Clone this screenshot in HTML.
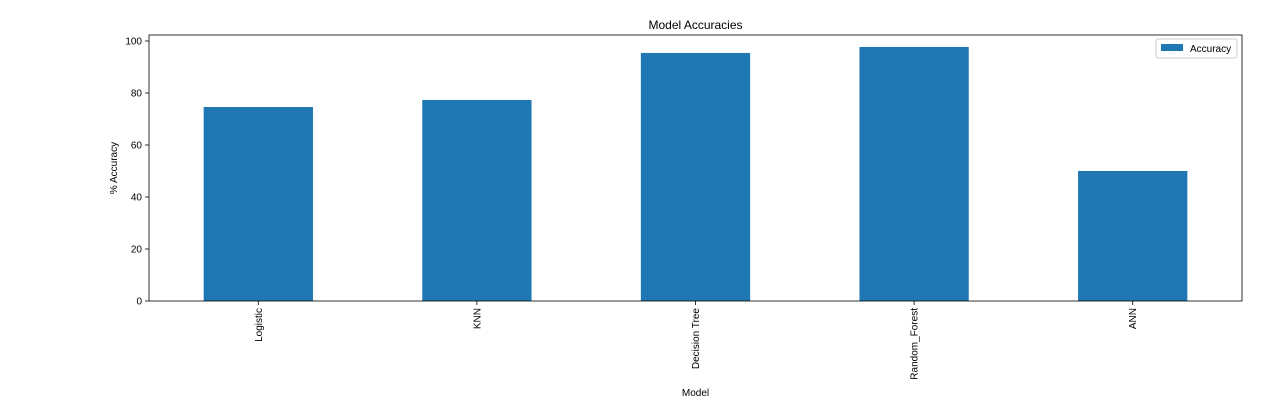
<!DOCTYPE html>
<html><head><meta charset="utf-8"><style>
body{margin:0;background:#fff;}
svg{display:block;font-family:"Liberation Sans","DejaVu Sans",sans-serif;}
</style></head><body>
<svg id="chart" width="1270" height="406">
<text x="695.5" y="29" font-size="12" text-anchor="middle">Model Accuracies</text>
<g id="bars"></g><g id="yticks"></g><g id="xticks"></g>
<rect x="149" y="35" width="1093" height="266" fill="none" stroke="#000" stroke-width="0.8"/>
<text x="695.5" y="396" font-size="10" text-anchor="middle">Model</text>
<text transform="translate(117,168) rotate(-90)" font-size="10" text-anchor="middle">% Accuracy</text>
<g>
<rect x="1156" y="39" width="81" height="19" rx="2" fill="#fff" stroke="#ccc"/>
<rect x="1161" y="44" width="22" height="7" fill="#1f77b4"/>
<text x="1190" y="52" font-size="10">Accuracy</text>
</g>
</svg>
<script>
const categories=["Logistic","KNN","Decision Tree","Random_Forest","ANN"];
const accuracy=[74.6,77.3,95.4,97.7,50.0];
const yTicks=[0,20,40,60,80,100];
const L=149,R=1242,T=35,B=301,YMAX=102.3;
const ns="http://www.w3.org/2000/svg";
const y=v=>B-(v/YMAX)*(B-T);
const step=(R-L)/categories.length;
const xc=i=>L+step*(i+0.5);
function mk(t,a,p){const e=document.createElementNS(ns,t);for(const k in a)e.setAttribute(k,a[k]);document.getElementById(p).appendChild(e);return e;}
accuracy.forEach((v,i)=>{
 const r=mk('rect',{x:xc(i)-step*0.25,y:y(v),width:step*0.5,height:B-y(v),fill:'#1f77b4'},'bars');
 
 
 mk('line',{x1:xc(i),x2:xc(i),y1:B,y2:B+4,stroke:'#000','stroke-width':0.8},'xticks');
 const t=mk('text',{transform:`translate(${xc(i)+3.5},${B+7}) rotate(-90)`,'font-size':10,'text-anchor':'end'},'xticks');
 t.textContent=categories[i];
 
 
});
yTicks.forEach(v=>{
 mk('line',{x1:L-4,x2:L,y1:y(v),y2:y(v),stroke:'#000','stroke-width':0.8},'yticks');
 const t=mk('text',{x:L-7,y:y(v)+3.5,'font-size':10,'text-anchor':'end'},'yticks');
 t.textContent=v;
 
 
});
</script>
</body></html>
